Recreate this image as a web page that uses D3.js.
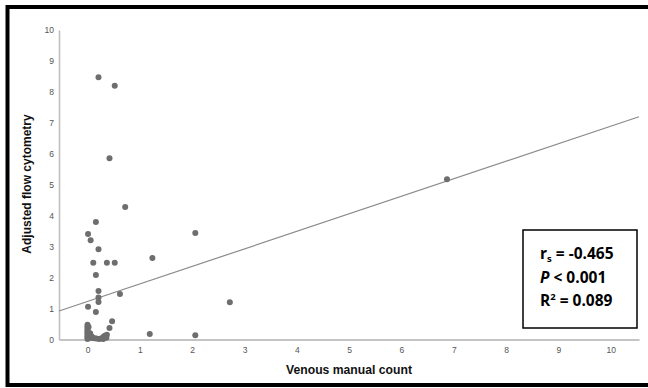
<!DOCTYPE html>
<html>
<head>
<meta charset="utf-8">
<script src="https://cdn.jsdelivr.net/npm/d3@7"></script>
<style>
  html, body { margin: 0; padding: 0; background: #fff; }
  svg { display: block; font-family: "Liberation Sans", Arial, sans-serif; }
</style>
</head>
<body>
<div id="chart"></div>
<script>
// venous manual count (x) vs adjusted flow cytometry (y)
const venous = [
  0.21, 0.52, 0.42, 0.72, 0.16, 0.01, 0.06, 0.21, 0.11, 0.37, 0.52, 1.24, 2.06,
  0.16, 0.21, 0.21, 0.21, 0.62, 0.01, 0.16, 0.47, 0.42, 1.19, 2.06, 2.72, 6.87,
  0, 0, 0, 0, 0, 0, 0, 0, 0, 0, 0.02, 0.02, 0.05, 0.05, 0.08, 0.08, 0.1, 0.13,
  0.17, 0.22, 0.26, 0.3, 0.3, 0.33, 0.36, 0.37
]
const flow = [
  8.47, 8.2, 5.86, 4.28, 3.8, 3.41, 3.21, 2.92, 2.48, 2.48, 2.48, 2.63, 3.44,
  2.08, 1.57, 1.36, 1.21, 1.47, 1.06, 0.89, 0.59, 0.37, 0.18, 0.14, 1.2, 5.18,
  0.48, 0.42, 0.36, 0.3, 0.25, 0.2, 0.15, 0.1, 0.05, 0.02, 0.4, 0.12, 0.2, 0.08,
  0.1, 0.05, 0.06, 0.04, 0.03, 0.02, 0.03, 0.08, 0.02, 0.12, 0.06, 0.15
]
const xTicks = [0, 1, 2, 3, 4, 5, 6, 7, 8, 9, 10]
const yTicks = [0, 1, 2, 3, 4, 5, 6, 7, 8, 9, 10]
const fitIntercept = 1.23
const fitSlope = 0.566
const statsLines = ["r_s = -0.465", "P < 0.001", "R^2 = 0.089"]

const width = 648
const height = 388

const svg = d3.select("#chart")
  .append("svg")
  .attr("width", width)
  .attr("height", height)

// outer frame
svg.append("rect")
  .attr("x", 7.5).attr("y", 7)
  .attr("width", 650).attr("height", 378)
  .attr("fill", "#fff")
  .attr("stroke", "#000")
  .attr("stroke-width", 4)

const x = d3.scaleLinear().domain([-0.545, 10.54]).range([59, 639])
const y = d3.scaleLinear().domain([0, 10]).range([339.5, 30])

// axes
const xAxis = svg.append("g")
  .attr("transform", `translate(0,${y(0)})`)
  .call(d3.axisBottom(x).tickValues(xTicks).tickSize(0).tickPadding(7).tickFormat(d3.format("d")))
xAxis.select(".domain").attr("stroke", "#c4c4c4").attr("stroke-width", 2)

const yAxis = svg.append("g")
  .attr("transform", `translate(${x.range()[0]},0)`)
  .call(d3.axisLeft(y).tickValues(yTicks).tickSize(0).tickPadding(5).tickFormat(d3.format("d")))
yAxis.select(".domain").attr("stroke", "#bdbdbd").attr("stroke-width", 1.5)

svg.selectAll(".tick text")
  .attr("fill", "#555")
  .style("font-size", "8.5px")
  .style("font-family", "Liberation Sans, Arial, sans-serif")

// axis titles
svg.append("text")
  .attr("x", 349)
  .attr("y", 374)
  .attr("text-anchor", "middle")
  .attr("font-size", 12.2)
  .attr("font-weight", "bold")
  .attr("fill", "#111")
  .text("Venous manual count")

svg.append("text")
  .attr("transform", "translate(31,184) rotate(-90)")
  .attr("text-anchor", "middle")
  .attr("font-size", 12)
  .attr("font-weight", "bold")
  .attr("fill", "#111")
  .text("Adjusted flow cytometry")

// fit line
const [x0, x1] = x.domain()
svg.append("line")
  .attr("x1", x(x0)).attr("y1", y(fitIntercept + fitSlope * x0))
  .attr("x2", x(x1)).attr("y2", y(fitIntercept + fitSlope * x1))
  .attr("stroke", "#8a8a8a")
  .attr("stroke-width", 1.2)

// points
svg.append("g")
  .selectAll("circle")
  .data(venous.map((v, i) => [v, flow[i]]))
  .join("circle")
  .attr("cx", d => x(d[0]))
  .attr("cy", d => y(d[1]))
  .attr("r", 3)
  .attr("fill", "#6e6e6e")

// stats box
svg.append("rect")
  .attr("x", 523).attr("y", 230)
  .attr("width", 114).attr("height", 98)
  .attr("fill", "#fff")
  .attr("stroke", "#000")
  .attr("stroke-width", 1.5)

const statText = svg.append("g")
  .attr("font-family", "'Open Sans', sans-serif")
  .attr("font-weight", "bold")
  .attr("font-size", 15.5)
  .attr("fill", "#000")

statsLines.forEach((s, i) => {
  const t = statText.append("text")
    .attr("x", 540)
    .attr("y", 259 + i * 23.5)
  if (s.startsWith("r_s")) {
    t.append("tspan").text("r")
    t.append("tspan").attr("font-size", 9.5).attr("dy", 3).text("s")
    t.append("tspan").attr("dy", -3).text(s.slice(3))
  } else if (s.startsWith("P")) {
    t.append("tspan").attr("font-style", "italic").text("P")
    t.append("tspan").text(s.slice(1))
  } else {
    t.append("tspan").text("R")
    t.append("tspan").attr("font-size", 9.5).attr("dy", -6).text("2")
    t.append("tspan").attr("dy", 6).text(s.slice(3))
  }
})
</script>
</body>
</html>
